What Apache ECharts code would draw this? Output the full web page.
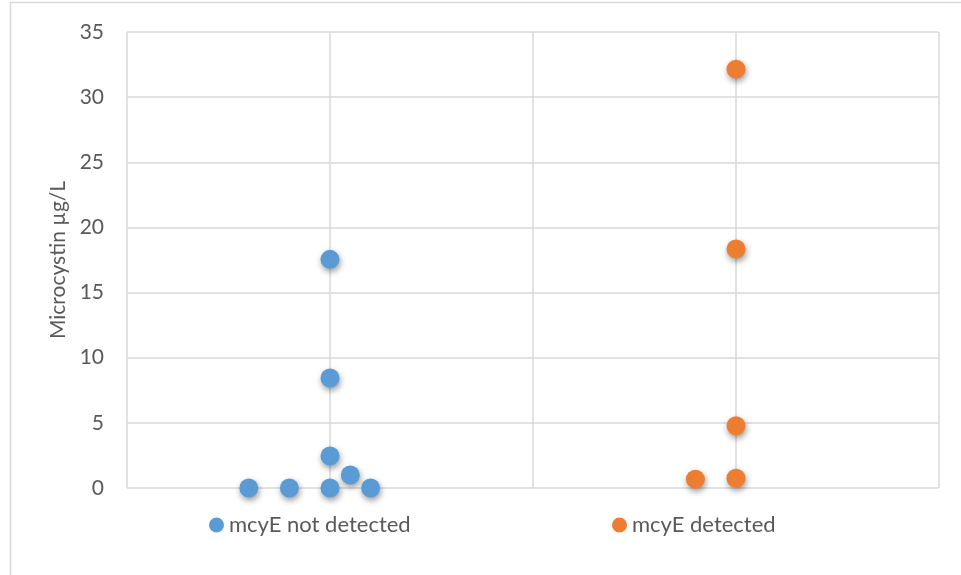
<!DOCTYPE html>
<html>
<head>
<meta charset="utf-8">
<script src="https://cdn.jsdelivr.net/npm/echarts@6/dist/echarts.min.js"></script>
<style>html,body{margin:0;padding:0;background:#fff}#c{width:961px;height:575px}</style>
</head>
<body>
<div id="c"></div>
<script>
const seriesNames = ['mcyE not detected', 'mcyE detected'];
const notDetectedX = [0.6, 0.8, 1.0, 1.1, 1.2, 1.0, 1.0, 1.0];
const notDetectedY = [0, 0, 0, 1.0, 0, 2.45, 8.45, 17.55];
const detectedX = [2.8, 3.0, 3.0, 3.0, 3.0];
const detectedY = [0.68, 0.75, 4.78, 18.35, 32.15];
const yTicks = [0, 5, 10, 15, 20, 25, 30, 35];
const yTitle = 'Microcystin µg/L';

const pair = (xs, ys) => xs.map((x, i) => [x, ys[i]]);
const font = 'Lato, "Open Sans", "Liberation Sans", sans-serif';
const chart = echarts.init(document.getElementById('c'), null, {renderer: 'canvas'});
const shadow = {opacity: 1, shadowBlur: 6, shadowColor: 'rgba(0,0,0,0.4)', shadowOffsetY: 3, shadowOffsetX: 1};
const legendText = {fontFamily: font, fontSize: 22, color: '#595959'};
chart.setOption({
  animation: false,
  backgroundColor: '#fff',
  graphic: [{type: 'rect', shape: {x: 10.5, y: 2.5, width: 1000, height: 600}, style: {fill: 'none', stroke: '#d9d9d9', lineWidth: 1.5}, silent: true}],
  grid: {left: 127, right: 22, top: 32, bottom: 87},
  xAxis: {
    type: 'value', min: 0, max: 4, interval: 1,
    axisLine: {show: false}, axisTick: {show: false}, axisLabel: {show: false},
    splitLine: {show: true, lineStyle: {color: '#d9d9d9', width: 1.5}}
  },
  yAxis: {
    type: 'value', min: yTicks[0], max: yTicks[yTicks.length - 1], interval: 5,
    name: yTitle, nameLocation: 'middle', nameGap: 54, nameRotate: 90,
    nameTextStyle: {fontFamily: font, fontSize: 21, color: '#595959'},
    axisLine: {show: false}, axisTick: {show: false},
    axisLabel: {fontFamily: font, fontSize: 21, color: '#595959', margin: 23},
    splitLine: {show: true, lineStyle: {color: '#d9d9d9', width: 1.5}}
  },
  legend: [
    {data: [seriesNames[0]], left: 209, top: 514, padding: 0, icon: 'circle', itemWidth: 15, itemHeight: 15, itemGap: 5, textStyle: legendText, itemStyle: {opacity: 1}},
    {data: [seriesNames[1]], left: 612, top: 514, padding: 0, icon: 'circle', itemWidth: 15, itemHeight: 15, itemGap: 5, textStyle: legendText, itemStyle: {opacity: 1}}
  ],
  series: [
    {name: seriesNames[0], type: 'scatter', symbolSize: 19, data: pair(notDetectedX, notDetectedY),
     itemStyle: Object.assign({color: '#5b9bd5'}, shadow)},
    {name: seriesNames[1], type: 'scatter', symbolSize: 19, data: pair(detectedX, detectedY),
     itemStyle: Object.assign({color: '#ed7d31'}, shadow)}
  ]
});
</script>
</body>
</html>
